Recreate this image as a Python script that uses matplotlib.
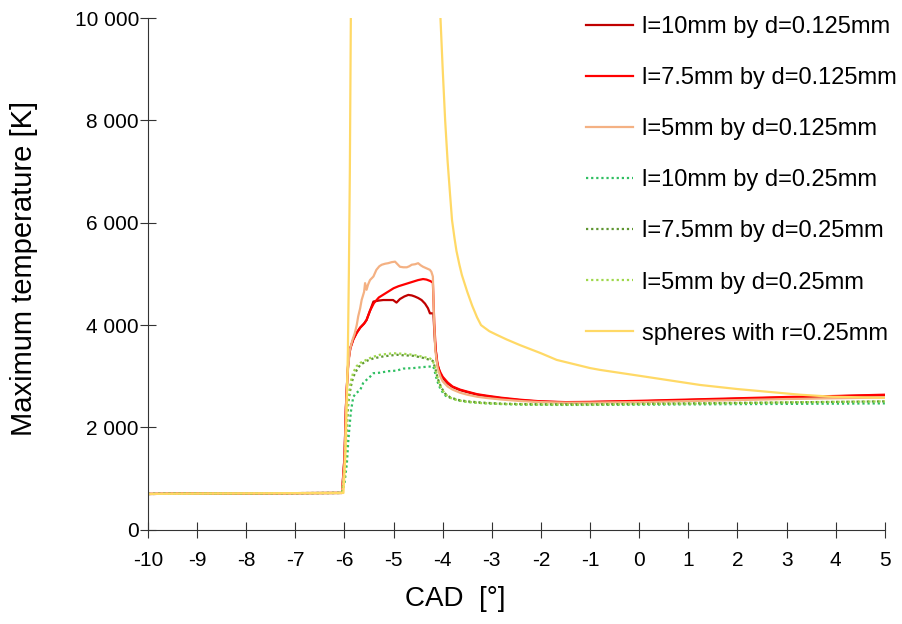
import matplotlib
matplotlib.use('Agg')
import matplotlib.pyplot as plt
from matplotlib.ticker import FuncFormatter, MultipleLocator

plt.rcParams['font.family'] = ['Liberation Sans', 'DejaVu Sans']
plt.rcParams['axes.unicode_minus'] = False

# crank angle [deg] and max temperature [K]
base_x = [-10, -8.6, -6.05]
base_y = [700, 710, 720]

red10_x = base_x + [-6.0, -5.97, -5.94, -5.92, -5.88, -5.82, -5.75, -5.68, -5.6, -5.55, -5.48, -5.41,
                    -5.3, -5.21, -5.1, -5.01, -4.94, -4.87, -4.78, -4.7, -4.63, -4.57, -4.5, -4.43,
                    -4.36, -4.3, -4.26, -4.19, -4.16, -4.12, -4.06, -4.0, -3.9, -3.8, -3.65, -3.5,
                    -3.3, -3.1, -2.8, -2.4, -2.0, -1.5, -1.0, 0, 1, 2, 3, 4, 5]
red10_y = base_y + [1400, 2400, 3000, 3300, 3550, 3720, 3850, 3950, 4030, 4100, 4280, 4460,
                    4480, 4490, 4490, 4490, 4440, 4510, 4560, 4590, 4580, 4560, 4530, 4490,
                    4420, 4330, 4230, 4230, 3700, 3300, 3070, 2970, 2860, 2790, 2730, 2690,
                    2640, 2610, 2570, 2530, 2505, 2490, 2495, 2510, 2535, 2560, 2585, 2610, 2630]

red75_x = base_x + [-6.0, -5.97, -5.94, -5.92, -5.88, -5.82, -5.75, -5.68, -5.6, -5.55, -5.48, -5.4,
                    -5.3, -5.2, -5.1, -5.0, -4.9, -4.8, -4.7, -4.6, -4.5, -4.4, -4.33, -4.25, -4.2,
                    -4.17, -4.14, -4.1, -4.05, -4.0, -3.9, -3.8, -3.65, -3.5, -3.3, -3.1, -2.8,
                    -2.4, -2.0, -1.5, -1.0, 0, 1, 2, 3, 4, 5]
red75_y = base_y + [1400, 2400, 3000, 3300, 3550, 3720, 3850, 3950, 4030, 4100, 4280, 4430,
                    4540, 4600, 4660, 4720, 4760, 4790, 4820, 4850, 4880, 4900, 4890, 4860, 4830,
                    4000, 3500, 3200, 3080, 2990, 2880, 2800, 2740, 2700, 2650, 2620, 2580,
                    2540, 2510, 2495, 2500, 2520, 2545, 2570, 2595, 2615, 2640]

sal5_x = base_x + [-6.0, -5.97, -5.94, -5.89, -5.84, -5.79, -5.75, -5.72, -5.68, -5.65, -5.6, -5.58,
                   -5.55, -5.52, -5.48, -5.41, -5.35, -5.29, -5.24, -5.17, -5.11, -5.04, -4.97,
                   -4.92, -4.87, -4.8, -4.73, -4.68, -4.63, -4.56, -4.5, -4.45, -4.4, -4.33, -4.26,
                   -4.23, -4.2, -4.18, -4.15, -4.1, -4.05, -4.0, -3.9, -3.8, -3.65, -3.5, -3.3,
                   -3.1, -2.8, -2.4, -2.0, -1.5, -1.0, 0, 1, 2, 3, 4, 5]
sal5_y = base_y + [1300, 2300, 3000, 3515, 3700, 3840, 4000, 4170, 4330, 4490, 4650, 4820,
                   4690, 4790, 4880, 4950, 5080, 5150, 5180, 5200, 5210, 5230, 5240,
                   5190, 5140, 5130, 5130, 5150, 5180, 5190, 5210, 5170, 5140, 5110, 5080,
                   5040, 4950, 4200, 3500, 3150, 3000, 2900, 2800, 2740, 2680, 2640, 2600,
                   2575, 2545, 2515, 2495, 2485, 2485, 2495, 2515, 2535, 2555, 2570, 2585]

grn10_x = base_x + [-6.0, -5.95, -5.92, -5.87, -5.82, -5.75, -5.68, -5.62, -5.55, -5.48, -5.41,
                    -5.28, -5.1, -4.94, -4.8, -4.6, -4.4, -4.26, -4.19, -4.15, -4.12, -4.05, -3.99,
                    -3.92, -3.78, -3.65, -3.45, -3.1, -2.77, -2.3, -1.76, -1.0, 0, 1, 2, 3, 4, 5]
grn10_y = base_y + [900, 1300, 1760, 2300, 2600, 2680, 2730, 2865, 2930, 2990, 3060,
                    3070, 3100, 3110, 3150, 3160, 3180, 3190, 3190, 3050, 2930, 2760, 2670,
                    2600, 2560, 2520, 2495, 2470, 2455, 2445, 2440, 2440, 2445, 2450, 2455, 2460, 2465, 2470]

grn75_x = base_x + [-6.0, -5.96, -5.92, -5.87, -5.82, -5.75, -5.68, -5.55, -5.41, -5.2, -4.94,
                    -4.8, -4.6, -4.4, -4.26, -4.2, -4.15, -4.1, -4.03, -3.95, -3.85, -3.7, -3.5,
                    -3.2, -2.8, -2.3, -1.5, -1.0, 0, 1, 2, 3, 4, 5]
grn75_y = base_y + [1000, 1800, 2500, 2800, 2990, 3120, 3220, 3300, 3350, 3390, 3420,
                    3410, 3400, 3360, 3320, 3300, 3150, 2950, 2780, 2660, 2590, 2540, 2510,
                    2485, 2465, 2455, 2450, 2450, 2460, 2470, 2480, 2490, 2500, 2510]

grn5_x = base_x + [-6.0, -5.96, -5.92, -5.87, -5.82, -5.75, -5.68, -5.62, -5.45, -5.28, -5.1,
                   -5.01, -4.8, -4.6, -4.4, -4.26, -4.2, -4.15, -4.1, -4.03, -3.95, -3.85, -3.7,
                   -3.5, -3.2, -2.8, -2.3, -1.5, -1.0, 0, 1, 2, 3, 4, 5]
grn5_y = base_y + [1050, 2000, 2600, 2900, 3080, 3200, 3260, 3290, 3370, 3420, 3440,
                   3450, 3440, 3420, 3380, 3350, 3300, 3150, 2950, 2770, 2650, 2580, 2530,
                   2500, 2475, 2460, 2450, 2445, 2445, 2455, 2465, 2475, 2490, 2500, 2510]

sph_x = base_x + [-6.02, -5.98, -5.95, -5.93, -5.91, -5.89, -5.87, -5.85, -4.1, -4.05, -4.0,
                  -3.95, -3.9, -3.85, -3.81, -3.76, -3.72, -3.66, -3.61, -3.5, -3.4, -3.3, -3.22,
                  -3.15, -3.05, -2.9, -2.7, -2.43, -2.0, -1.68, -1.0, -0.8, 0, 1.24, 2, 3.27, 3.94, 5]
sph_y = base_y + [720, 1500, 2600, 3500, 5000, 7000, 10000, 13000, 13000, 10100, 9000,
                  8000, 7200, 6550, 6050, 5700, 5450, 5180, 4980, 4650, 4380, 4150, 4000,
                  3950, 3880, 3810, 3720, 3610, 3450, 3320, 3160, 3125, 3010, 2830, 2750, 2640, 2600, 2580]

series = [
    (red10_x, red10_y, 'l=10mm by d=0.125mm', '#c00000', '-'),
    (red75_x, red75_y, 'l=7.5mm by d=0.125mm', '#ff0000', '-'),
    (sal5_x, sal5_y, 'l=5mm by d=0.125mm', '#f4b183', '-'),
    (grn10_x, grn10_y, 'l=10mm by d=0.25mm', '#2fbf62', (0, (1, 1.3))),
    (grn75_x, grn75_y, 'l=7.5mm by d=0.25mm', '#5e9632', (0, (1, 1.3))),
    (grn5_x, grn5_y, 'l=5mm by d=0.25mm', '#9ed84a', (0, (1, 1.3))),
    (sph_x, sph_y, 'spheres with r=0.25mm', '#ffd966', '-'),
]

fig = plt.figure(figsize=(9.02, 6.24), dpi=100)
ax = fig.add_axes([0.164, 0.151, 0.817, 0.820])

for x, y, name, c, ls in series:
    ax.plot(x, y, color=c, ls=ls, lw=1.6, label=name)

ax.set_xlim(-10, 5)
ax.set_ylim(0, 10000)
ax.xaxis.set_major_locator(MultipleLocator(1))
ax.yaxis.set_major_locator(MultipleLocator(2000))
ax.yaxis.set_major_formatter(FuncFormatter(lambda v, p: f'{int(v):,}'.replace(',', ' ')))

for s in ['top', 'right']:
    ax.spines[s].set_visible(False)
for s in ['left', 'bottom']:
    ax.spines[s].set_color('#333333')
ax.tick_params(direction='inout', length=11, width=0.8, color='#333333', labelsize=15)
ax.tick_params(axis='x', pad=10)
ax.tick_params(axis='y', pad=1)

ax.set_xlabel('CAD  [°]', fontsize=20, va='top')
ax.xaxis.set_label_coords(0.4166, -0.11)
ax.set_ylabel('Maximum temperature [K]', fontsize=21, va='center')
ax.yaxis.set_label_coords(-0.168, 0.51)

ax.legend(loc='upper left', bbox_to_anchor=(0.6395, 0.989), bbox_transform=fig.transFigure,
          frameon=False, fontsize=17, handlelength=2.0, handletextpad=0.34,
          labelspacing=1.23, borderaxespad=0)

fig.savefig('out.png', dpi=100)
